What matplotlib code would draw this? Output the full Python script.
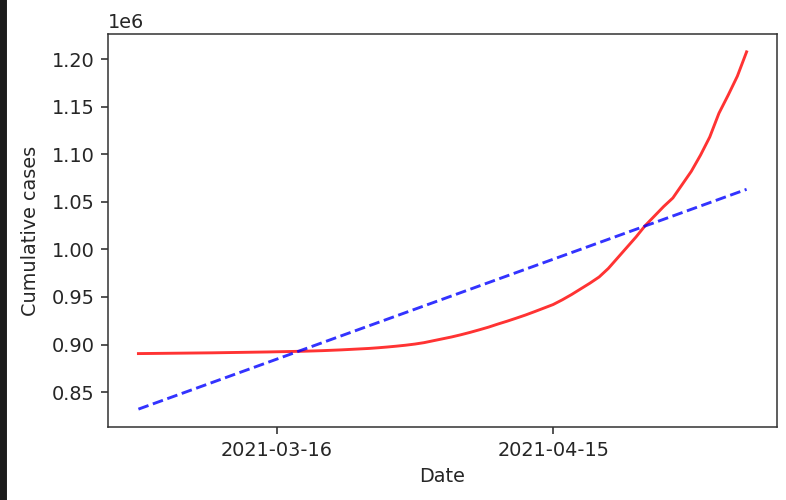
import numpy as np
import pandas as pd
import matplotlib
matplotlib.use("Agg")
import matplotlib.pyplot as plt
import matplotlib.dates as mdates
from matplotlib.patches import Rectangle

# -----------------------------
# Data
# -----------------------------
start_date = "2021-03-01"
end_date = "2021-05-06"

cumulative_cases = [
    890500, 890600, 890700, 890800, 890900, 891000, 891100, 891200, 891300, 891450,
    891600, 891750, 891900, 892050, 892200, 892400, 892600, 892800, 893000, 893300,
    893600, 894000, 894400, 894900, 895400, 895900, 896600, 897400, 898300, 899300,
    900500, 902000, 904000, 906000, 908000, 910300, 912800, 915500, 918300, 921500,
    924500, 927700, 931000, 934600, 938300, 942000, 947000, 952500, 958500, 964500,
    971000, 980000, 991000, 1002000, 1013000, 1025000, 1035000, 1045000, 1054000, 1068000,
    1082000, 1099000, 1118000, 1143000, 1162000, 1182000, 1207500,
]

tick_dates = ["2021-03-16", "2021-04-15"]

dates = pd.date_range(start_date, end_date, freq="D")
df = pd.DataFrame({"date": dates, "cases": cumulative_cases})

# linear trend fitted on the day index
day_idx = np.arange(len(df))
slope, intercept = np.polyfit(day_idx, df["cases"], 1)
df["trend"] = intercept + slope * day_idx

# -----------------------------
# Plot
# -----------------------------
# screenshot looks a little softer than pure black
for key in ["text.color", "axes.labelcolor", "xtick.color", "ytick.color"]:
    plt.rcParams[key] = "#262626"
plt.rcParams["axes.edgecolor"] = "#333333"

dpi = 139
fig = plt.figure(figsize=(786 / dpi, 500 / dpi), dpi=dpi)
ax = fig.add_axes([108 / 786, 1 - 427 / 500, (777 - 108) / 786, (427 - 34) / 500])

ax.plot(df["date"], df["cases"], color="red", alpha=0.8, linewidth=1.5)
ax.plot(df["date"], df["trend"], color="blue", linestyle="--", alpha=0.8, linewidth=1.5)

ax.set_xticks(pd.to_datetime(tick_dates))
ax.xaxis.set_major_formatter(mdates.DateFormatter("%Y-%m-%d"))
ax.set_xlabel("Date")
ax.set_ylabel("Cumulative cases", labelpad=6)

# dark strip on the left edge of the screenshot
fig.patches.append(Rectangle((0, 0), 6 / 786, 1, transform=fig.transFigure,
                             color="#1c1c1c", zorder=10))

fig.savefig("out.png", dpi=dpi)
